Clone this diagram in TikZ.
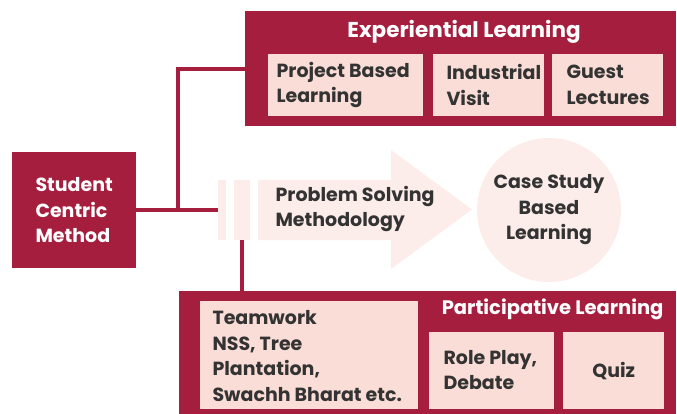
\documentclass[tikz,border=0pt]{standalone}
\usepackage{fontspec}
\setmainfont{Poppins}
\definecolor{crim}{HTML}{A51E3E}
\definecolor{pinkbox}{HTML}{FADDD6}
\definecolor{pale}{HTML}{FCEDEA}
\definecolor{txt}{HTML}{333333}
\begin{document}
\begin{tikzpicture}[x=1pt,y=-1pt,
  lbl/.style={font=\bfseries\fontsize{19}{25.5}\selectfont},
  ttl/.style={font=\bfseries\fontsize{21.5}{26}\selectfont, text=white},
  outer/.style={fill=crim, inner sep=0pt, anchor=north west},
  inbox/.style={fill=pinkbox, inner sep=0pt, anchor=north west},
  conn/.style={draw=crim, line width=4pt},
  bar/.style={fill=pale, inner sep=0pt, anchor=north west}]
\useasboundingbox (0,0) rectangle (677,414);
% outer boxes
\node[outer, minimum width=124pt, minimum height=116pt] (scm) at (12,152) {};
\node[lbl, text=white, align=left] at (scm.center) {Student\\Centric\\Method};
\node[outer, minimum width=431pt, minimum height=115pt] (exp) at (245,11) {};
\node[ttl] (expt) at (464,32) {Experiential Learning};
\node[inbox, minimum width=155pt, minimum height=62pt] (pbl) at (268,54) {};
\node[inbox, minimum width=111pt, minimum height=62pt] (iv) at (433,54) {};
\node[inbox, minimum width=111pt, minimum height=62pt] (gl) at (552,54) {};
\node[lbl, text=txt, align=left, anchor=west] at (273,85) {Project Based\\Learning};
\node[lbl, text=txt, align=left, anchor=west] at (443,85) {Industrial\\Visit};
\node[lbl, text=txt, align=left, anchor=west] at (563,85) {Guest\\Lectures};
% middle
\node[bar, minimum width=8pt, minimum height=60pt] (bar1) at (218,180) {};
\node[bar, minimum width=16pt, minimum height=60pt] (bar2) at (234,180) {};
\fill[pale] (258,180) -- (391,180) -- (391,150) -- (472,209.5) -- (391,269) -- (391,240) -- (258,240) -- cycle;
\node[lbl, text=txt, align=left, anchor=west] (psm) at (272,209) {Problem Solving\\Methodology};
\node[circle, fill=pale, minimum size=144pt, inner sep=0pt] (cs) at (549,210) {};
\node[lbl, text=txt, align=center] at (cs.center) {Case Study\\Based\\Learning};
% bottom
\node[outer, minimum width=497pt, minimum height=123pt] (part) at (179,291) {};
\node[ttl, font=\bfseries\fontsize{19.5}{25}\selectfont, anchor=east] (partt) at (667,309) {Participative Learning};
\node[inbox, minimum width=218pt, minimum height=108pt] (tw) at (200,301) {};
\node[inbox, minimum width=125pt, minimum height=77pt] (rp) at (429,332) {};
\node[inbox, minimum width=101pt, minimum height=77pt] (qz) at (563,332) {};
\node[lbl, text=txt, align=left, anchor=west] at (209,356) {Teamwork\\NSS, Tree\\Plantation,\\Swachh Bharat etc.};
\node[lbl, text=txt, align=left, anchor=west] at (440,370) {Role Play,\\Debate};
\node[lbl, text=txt] at (qz.center) {Quiz};
% connectors
\coordinate (j) at (178,210);
\draw[conn] (scm.east) -- (bar1.west);
\draw[conn] (j) |- (exp.west);
\draw[conn] (bar2.south) -- (bar2.south |- part.north);
\end{tikzpicture}
\end{document}
